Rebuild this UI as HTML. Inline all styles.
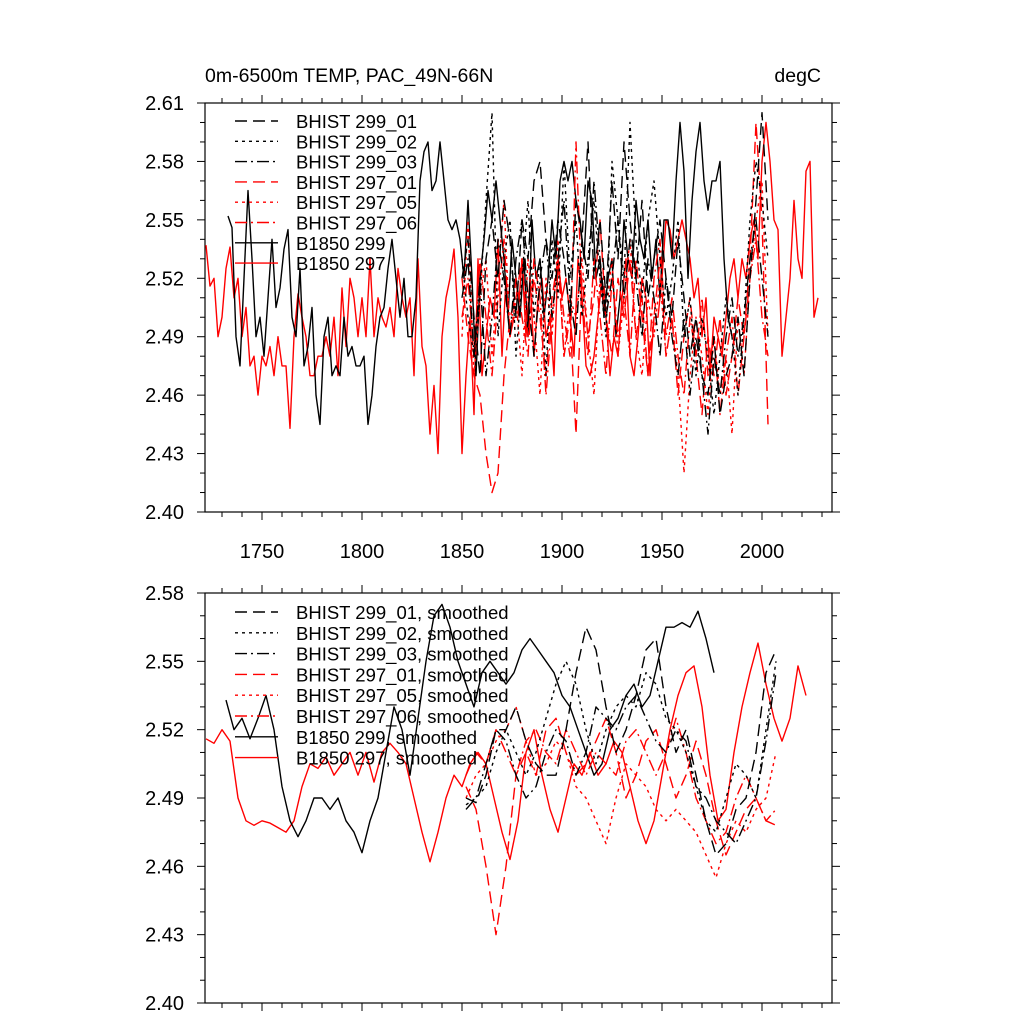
<!DOCTYPE html>
<html><head><meta charset="utf-8"><style>
html,body{margin:0;padding:0;background:#fff;}
svg{display:block;font-family:"Liberation Sans",sans-serif;}
</style></head><body>
<svg id="chart" width="1024" height="1024" viewBox="0 0 1024 1024" xmlns="http://www.w3.org/2000/svg">
<text x="205" y="82" font-size="19.5">0m-6500m TEMP, PAC_49N-66N</text>
<text x="821" y="82" font-size="19.5" text-anchor="end">degC</text>
<g id="top"></g>
<g id="bot"></g>
</svg>
<script>
// ---- data ----
const xTicks = [1750,1800,1850,1900,1950,2000];
const topYTicks = [2.40,2.43,2.46,2.49,2.52,2.55,2.58,2.61];
const botYTicks = [2.40,2.43,2.46,2.49,2.52,2.55,2.58];

// top panel raw series
const b297Start = 1722, b297Step = 2;
const b297 = [2.537,2.516,2.52,2.49,2.50,2.525,2.536,2.51,2.52,2.49,2.505,2.475,2.48,2.46,2.48,2.475,2.485,2.47,2.49,2.475,2.475,2.443,2.49,2.512,2.50,2.49,2.47,2.47,2.48,2.48,2.49,2.48,2.50,2.47,2.515,2.485,2.52,2.51,2.49,2.51,2.49,2.53,2.49,2.51,2.50,2.495,2.505,2.49,2.525,2.51,2.50,2.51,2.47,2.53,2.485,2.475,2.44,2.465,2.43,2.49,2.51,2.52,2.535,2.50,2.43,2.47,2.50,2.45,2.53,2.47,2.49,2.51,2.50,2.54,2.48,2.52,2.49,2.50,2.50,2.53,2.49,2.52,2.48,2.51,2.52,2.49,2.50,2.47,2.53,2.51,2.52,2.50,2.48,2.53,2.51,2.475,2.47,2.48,2.50,2.52,2.50,2.47,2.49,2.48,2.51,2.53,2.48,2.47,2.49,2.52,2.51,2.47,2.50,2.50,2.52,2.55,2.545,2.53,2.54,2.55,2.54,2.53,2.51,2.52,2.49,2.51,2.47,2.50,2.49,2.48,2.50,2.52,2.53,2.51,2.53,2.52,2.54,2.55,2.53,2.58,2.60,2.58,2.55,2.545,2.48,2.50,2.52,2.56,2.53,2.52,2.575,2.58,2.50,2.51];
const b299Start = 1733, b299Step = 2;
const b299 = [2.552,2.546,2.49,2.475,2.52,2.565,2.53,2.49,2.50,2.48,2.51,2.54,2.505,2.515,2.535,2.545,2.50,2.49,2.525,2.475,2.485,2.505,2.46,2.445,2.49,2.50,2.47,2.475,2.47,2.50,2.48,2.485,2.475,2.475,2.48,2.445,2.46,2.485,2.50,2.505,2.525,2.54,2.52,2.50,2.52,2.49,2.49,2.51,2.57,2.585,2.59,2.565,2.57,2.59,2.57,2.55,2.545,2.55,2.54,2.52,2.56,2.52,2.47,2.52,2.54,2.565,2.55,2.57,2.55,2.53,2.50,2.54,2.52,2.50,2.53,2.49,2.55,2.52,2.53,2.50,2.52,2.55,2.53,2.57,2.58,2.57,2.58,2.56,2.55,2.53,2.57,2.56,2.52,2.53,2.50,2.52,2.53,2.49,2.51,2.55,2.53,2.52,2.56,2.54,2.53,2.55,2.52,2.54,2.51,2.55,2.55,2.53,2.57,2.60,2.575,2.52,2.56,2.585,2.60,2.57,2.555,2.57,2.57,2.58,2.53,2.50,2.49];
const histStart = 1850, histStep = 3;
const h299_01 = [2.52,2.54,2.50,2.47,2.53,2.55,2.52,2.56,2.54,2.50,2.55,2.53,2.57,2.58,2.54,2.52,2.55,2.53,2.50,2.56,2.54,2.59,2.52,2.55,2.51,2.57,2.53,2.59,2.55,2.52,2.56,2.51,2.53,2.55,2.52,2.50,2.54,2.51,2.48,2.50,2.47,2.46,2.49,2.45,2.47,2.48,2.50,2.47,2.52,2.56,2.605,2.55];
const h299_02 = [2.53,2.50,2.48,2.51,2.56,2.605,2.49,2.53,2.55,2.48,2.52,2.56,2.50,2.53,2.47,2.54,2.51,2.58,2.52,2.55,2.50,2.53,2.56,2.52,2.49,2.58,2.55,2.52,2.60,2.54,2.51,2.55,2.57,2.53,2.50,2.52,2.55,2.49,2.51,2.47,2.50,2.48,2.45,2.48,2.51,2.49,2.46,2.50,2.55,2.58,2.56,2.53];
const h299_03 = [2.51,2.53,2.48,2.52,2.47,2.50,2.54,2.52,2.49,2.53,2.55,2.51,2.48,2.52,2.54,2.50,2.53,2.56,2.51,2.49,2.54,2.52,2.57,2.53,2.50,2.52,2.55,2.51,2.54,2.52,2.49,2.53,2.51,2.48,2.52,2.49,2.47,2.50,2.46,2.49,2.47,2.44,2.48,2.46,2.49,2.51,2.48,2.50,2.53,2.55,2.52,2.49];
const h297_01 = [2.52,2.49,2.47,2.46,2.43,2.41,2.42,2.47,2.50,2.51,2.53,2.49,2.52,2.50,2.47,2.51,2.53,2.48,2.50,2.44,2.52,2.49,2.51,2.55,2.50,2.48,2.52,2.50,2.53,2.49,2.51,2.47,2.50,2.53,2.48,2.50,2.46,2.49,2.51,2.48,2.45,2.49,2.47,2.50,2.46,2.48,2.51,2.49,2.53,2.60,2.55,2.445];
const h297_05 = [2.49,2.55,2.47,2.51,2.53,2.48,2.52,2.56,2.49,2.51,2.47,2.53,2.50,2.46,2.52,2.49,2.54,2.48,2.51,2.50,2.53,2.49,2.46,2.52,2.50,2.53,2.48,2.51,2.54,2.49,2.47,2.51,2.49,2.52,2.48,2.50,2.47,2.42,2.47,2.50,2.48,2.45,2.49,2.46,2.48,2.44,2.50,2.47,2.52,2.55,2.57,2.49];
const h297_06 = [2.50,2.52,2.48,2.53,2.50,2.47,2.51,2.54,2.49,2.52,2.50,2.48,2.53,2.51,2.46,2.50,2.53,2.50,2.48,2.59,2.51,2.48,2.53,2.50,2.47,2.52,2.49,2.51,2.48,2.53,2.50,2.47,2.52,2.54,2.49,2.51,2.48,2.46,2.50,2.48,2.51,2.47,2.49,2.45,2.48,2.50,2.46,2.49,2.52,2.54,2.50,2.48];

// bottom panel smoothed series
const s297Start = 1722, s297Step = 4;
const s297 = [2.516,2.514,2.52,2.515,2.49,2.48,2.478,2.48,2.479,2.477,2.475,2.48,2.495,2.505,2.503,2.508,2.50,2.505,2.51,2.50,2.51,2.497,2.51,2.514,2.51,2.505,2.49,2.475,2.462,2.475,2.49,2.50,2.495,2.505,2.51,2.505,2.49,2.475,2.463,2.48,2.51,2.52,2.50,2.485,2.475,2.49,2.505,2.50,2.51,2.50,2.505,2.515,2.51,2.495,2.48,2.47,2.48,2.50,2.52,2.535,2.545,2.548,2.53,2.50,2.48,2.485,2.51,2.53,2.545,2.558,2.54,2.525,2.515,2.525,2.548,2.535];
const s299Start = 1732, s299Step = 4;
const s299 = [2.533,2.52,2.525,2.516,2.525,2.535,2.52,2.495,2.48,2.473,2.48,2.49,2.49,2.485,2.49,2.48,2.475,2.466,2.48,2.49,2.51,2.53,2.52,2.50,2.525,2.55,2.57,2.575,2.565,2.55,2.54,2.53,2.545,2.55,2.545,2.54,2.545,2.555,2.56,2.555,2.55,2.545,2.535,2.53,2.52,2.51,2.50,2.505,2.52,2.525,2.535,2.54,2.53,2.535,2.55,2.565,2.565,2.567,2.565,2.572,2.56,2.545];
const sHistStart = 1852, sHistStep = 5;
const s299_01 = [2.49,2.488,2.50,2.52,2.52,2.53,2.515,2.505,2.50,2.50,2.52,2.545,2.565,2.555,2.53,2.51,2.52,2.535,2.555,2.56,2.53,2.51,2.52,2.50,2.48,2.465,2.47,2.485,2.49,2.51,2.545,2.555];
const s299_02 = [2.487,2.49,2.495,2.51,2.52,2.51,2.50,2.51,2.525,2.54,2.55,2.54,2.52,2.505,2.52,2.53,2.535,2.53,2.545,2.54,2.525,2.52,2.51,2.495,2.48,2.475,2.49,2.505,2.50,2.49,2.52,2.55];
const s299_03 = [2.485,2.49,2.505,2.52,2.515,2.50,2.49,2.495,2.51,2.52,2.515,2.50,2.51,2.53,2.525,2.52,2.53,2.535,2.525,2.515,2.51,2.52,2.515,2.495,2.49,2.48,2.475,2.47,2.48,2.49,2.515,2.545];
const s297_01 = [2.495,2.485,2.46,2.43,2.46,2.50,2.51,2.50,2.52,2.525,2.51,2.50,2.505,2.515,2.525,2.51,2.49,2.50,2.515,2.52,2.505,2.49,2.50,2.515,2.50,2.48,2.465,2.475,2.485,2.49,2.48,2.478];
const s297_05 = [2.49,2.50,2.505,2.515,2.52,2.53,2.515,2.50,2.505,2.515,2.51,2.495,2.49,2.48,2.47,2.49,2.505,2.50,2.495,2.485,2.48,2.485,2.48,2.475,2.465,2.455,2.47,2.48,2.475,2.485,2.49,2.51];
const s297_06 = [2.50,2.51,2.505,2.52,2.51,2.50,2.515,2.52,2.51,2.505,2.52,2.51,2.50,2.51,2.505,2.50,2.515,2.52,2.51,2.50,2.51,2.525,2.51,2.49,2.48,2.47,2.475,2.49,2.50,2.49,2.48,2.485];

// ---- drawing ----
const NS = "http://www.w3.org/2000/svg";
const L = 205, R = 832;
const X0 = 1721.5, X1 = 2035;
function xPos(v){ return L + (v - X0) / (X1 - X0) * (R - L); }
function yTop(v){ return 512 - (v - 2.40) / 0.21 * 409; }
function yBot(v){ return 1003 - (v - 2.40) / 0.18 * 410; }
const DASH = {solid:"", dash:"12,6", dot:"3,4", dashdot:"12,4,2,4"};

function mk(tag, attrs, parent){
  const e = document.createElementNS(NS, tag);
  for (const k in attrs) e.setAttribute(k, attrs[k]);
  parent.appendChild(e);
  return e;
}

function axes(g, T, B, yFn, yt, ymin, ymax, showX, prefix){
  const frame = mk("rect", {x:L, y:T, width:R-L, height:B-T, fill:"none", stroke:"#000", "stroke-width":1.2}, g);
  
  
  for (let yr = 1730; yr <= 2030; yr += 10){
    const x = xPos(yr), major = yr % 50 === 0, len = major ? 8 : 5;
    const t1 = mk("line", {x1:x, x2:x, y1:B, y2:B+len, stroke:"#000", "stroke-width":1}, g);
    
    
    const t2 = mk("line", {x1:x, x2:x, y1:T, y2:T-len, stroke:"#000", "stroke-width":1}, g);
    
    
  }
  if (showX) xTicks.forEach(v => {
    const t = mk("text", {x:xPos(v), y:B+46, "font-size":20, "text-anchor":"middle"}, g);
    t.textContent = v;
    
    
  });
  for (let k = Math.round(ymin*100); k <= Math.round(ymax*100); k++){
    const v = k/100, y = yFn(v), major = (k - 240) % 3 === 0, len = major ? 8 : 5;
    const a = mk("line", {x1:L-len, x2:L, y1:y, y2:y, stroke:"#000", "stroke-width":1}, g);
    
    
    const b = mk("line", {x1:R, x2:R+len, y1:y, y2:y, stroke:"#000", "stroke-width":1}, g);
    
    
  }
  yt.forEach(v => {
    const t = mk("text", {x:184, y:yFn(v)+7, "font-size":20, "text-anchor":"end"}, g);
    t.textContent = v.toFixed(2);
    
    
  });
}

function series(g, vals, start, step, yFn, color, style, name){
  const pts = vals.map((v,i) => xPos(start + i*step).toFixed(1) + "," + yFn(v).toFixed(1)).join(" ");
  const p = mk("polyline", {points:pts, fill:"none", stroke:color, "stroke-width":1.4, "stroke-dasharray":DASH[style], "stroke-linejoin":"round"}, g);
  
  
}

function legend(g, entries, y0, dy, prefix){
  entries.forEach((e,i) => {
    const y = y0 + i*dy;
    const ln = mk("line", {x1:235, x2:278, y1:y, y2:y, stroke:e[1], "stroke-width":1.4, "stroke-dasharray":DASH[e[2]]}, g);
    
    
    const t = mk("text", {x:296, y:y+7, "font-size":18.5}, g);
    t.textContent = e[0];
    
    
  });
}

const gT = document.getElementById("top"), gB = document.getElementById("bot");
axes(gT, 103, 512, yTop, topYTicks, 2.40, 2.61, true, "top");
axes(gB, 593, 1003, yBot, botYTicks, 2.40, 2.58, false, "bottom");

series(gT, b297, b297Start, b297Step, yTop, "#f00", "solid", "b1850-297-line");
series(gT, b299, b299Start, b299Step, yTop, "#000", "solid", "b1850-299-line");
series(gT, h297_05, histStart, histStep, yTop, "#f00", "dot", "bhist-297-05-line");
series(gT, h297_06, histStart, histStep, yTop, "#f00", "dashdot", "bhist-297-06-line");
series(gT, h297_01, histStart, histStep, yTop, "#f00", "dash", "bhist-297-01-line");
series(gT, h299_03, histStart, histStep, yTop, "#000", "dashdot", "bhist-299-03-line");
series(gT, h299_02, histStart, histStep, yTop, "#000", "dot", "bhist-299-02-line");
series(gT, h299_01, histStart, histStep, yTop, "#000", "dash", "bhist-299-01-line");

series(gB, s297, s297Start, s297Step, yBot, "#f00", "solid", "b1850-297-smoothed-line");
series(gB, s299, s299Start, s299Step, yBot, "#000", "solid", "b1850-299-smoothed-line");
series(gB, s297_05, sHistStart, sHistStep, yBot, "#f00", "dot", "bhist-297-05-smoothed-line");
series(gB, s297_06, sHistStart, sHistStep, yBot, "#f00", "dashdot", "bhist-297-06-smoothed-line");
series(gB, s297_01, sHistStart, sHistStep, yBot, "#f00", "dash", "bhist-297-01-smoothed-line");
series(gB, s299_03, sHistStart, sHistStep, yBot, "#000", "dashdot", "bhist-299-03-smoothed-line");
series(gB, s299_02, sHistStart, sHistStep, yBot, "#000", "dot", "bhist-299-02-smoothed-line");
series(gB, s299_01, sHistStart, sHistStep, yBot, "#000", "dash", "bhist-299-01-smoothed-line");

legend(gT, [["BHIST 299_01","#000","dash"],["BHIST 299_02","#000","dot"],["BHIST 299_03","#000","dashdot"],["BHIST 297_01","#f00","dash"],["BHIST 297_05","#f00","dot"],["BHIST 297_06","#f00","dashdot"],["B1850 299","#000","solid"],["B1850 297","#f00","solid"]], 121, 20.3, "top");
legend(gB, [["BHIST 299_01, smoothed","#000","dash"],["BHIST 299_02, smoothed","#000","dot"],["BHIST 299_03, smoothed","#000","dashdot"],["BHIST 297_01, smoothed","#f00","dash"],["BHIST 297_05, smoothed","#f00","dot"],["BHIST 297_06, smoothed","#f00","dashdot"],["B1850 299, smoothed","#000","solid"],["B1850 297, smoothed","#f00","solid"]], 612, 20.8, "bottom");
</script>
</body></html>
